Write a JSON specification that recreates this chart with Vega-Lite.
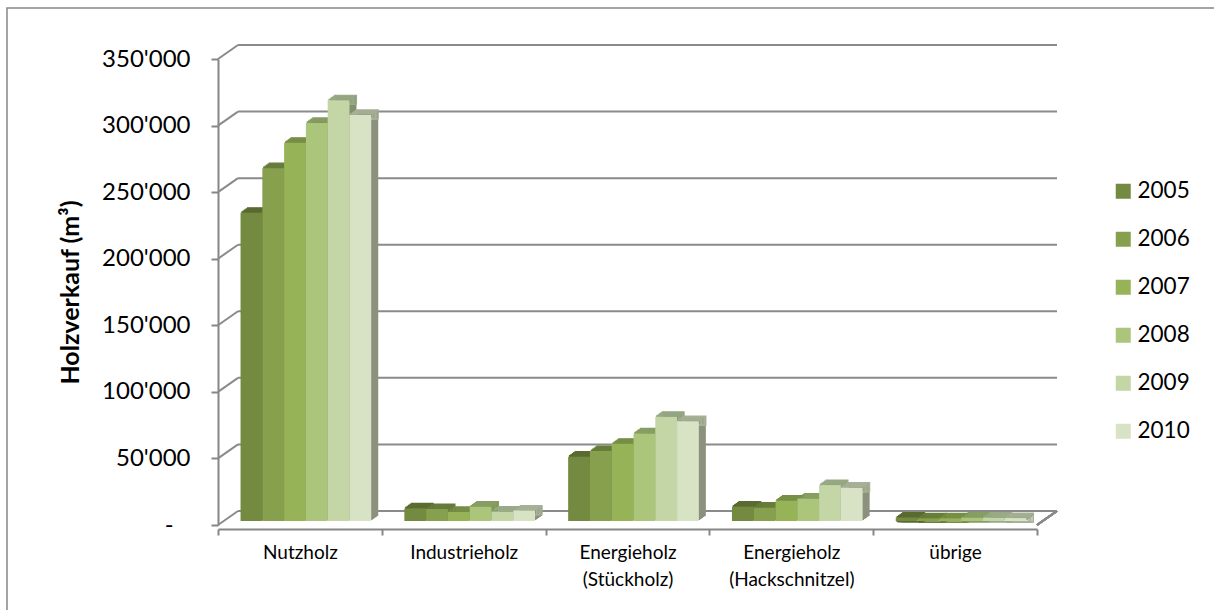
{"$schema":"https://vega.github.io/schema/vega-lite/v6.json","width":1210,"height":606,"autosize":{"type":"none"},"padding":{"left":7,"top":8,"right":0,"bottom":0},"background":"white","config":{"view":{"stroke":"#868686","strokeWidth":1.5},"font":"Lato"},"datasets":{"bars":[
{"Sorte":"Nutzholz","Jahr":"2005","Holzverkauf":231500},{"Sorte":"Nutzholz","Jahr":"2006","Holzverkauf":265000},{"Sorte":"Nutzholz","Jahr":"2007","Holzverkauf":284000},{"Sorte":"Nutzholz","Jahr":"2008","Holzverkauf":299000},{"Sorte":"Nutzholz","Jahr":"2009","Holzverkauf":316000},{"Sorte":"Nutzholz","Jahr":"2010","Holzverkauf":305000},
{"Sorte":"Industrieholz","Jahr":"2005","Holzverkauf":9500},{"Sorte":"Industrieholz","Jahr":"2006","Holzverkauf":9000},{"Sorte":"Industrieholz","Jahr":"2007","Holzverkauf":6800},{"Sorte":"Industrieholz","Jahr":"2008","Holzverkauf":10800},{"Sorte":"Industrieholz","Jahr":"2009","Holzverkauf":7000},{"Sorte":"Industrieholz","Jahr":"2010","Holzverkauf":7800},
{"Sorte":"Energieholz (Stückholz)","Jahr":"2005","Holzverkauf":48300},{"Sorte":"Energieholz (Stückholz)","Jahr":"2006","Holzverkauf":52500},{"Sorte":"Energieholz (Stückholz)","Jahr":"2007","Holzverkauf":58000},{"Sorte":"Energieholz (Stückholz)","Jahr":"2008","Holzverkauf":65800},{"Sorte":"Energieholz (Stückholz)","Jahr":"2009","Holzverkauf":78300},{"Sorte":"Energieholz (Stückholz)","Jahr":"2010","Holzverkauf":75000},
{"Sorte":"Energieholz (Hackschnitzel)","Jahr":"2005","Holzverkauf":10800},{"Sorte":"Energieholz (Hackschnitzel)","Jahr":"2006","Holzverkauf":10000},{"Sorte":"Energieholz (Hackschnitzel)","Jahr":"2007","Holzverkauf":15300},{"Sorte":"Energieholz (Hackschnitzel)","Jahr":"2008","Holzverkauf":16800},{"Sorte":"Energieholz (Hackschnitzel)","Jahr":"2009","Holzverkauf":27000},{"Sorte":"Energieholz (Hackschnitzel)","Jahr":"2010","Holzverkauf":25000},
{"Sorte":"übrige","Jahr":"2005","Holzverkauf":2600},{"Sorte":"übrige","Jahr":"2006","Holzverkauf":2000},{"Sorte":"übrige","Jahr":"2007","Holzverkauf":2000},{"Sorte":"übrige","Jahr":"2008","Holzverkauf":2500},{"Sorte":"übrige","Jahr":"2009","Holzverkauf":2500},{"Sorte":"übrige","Jahr":"2010","Holzverkauf":2200}],
"grid":[{"wert":0,"hinten":10511},{"wert":50000,"hinten":60511},{"wert":100000,"hinten":110511},{"wert":150000,"hinten":160511},{"wert":200000,"hinten":210511},{"wert":250000,"hinten":260511},{"wert":300000,"hinten":310511},{"wert":350000,"hinten":360511}]},
"resolve":{"scale":{"x":"independent"}},
"layer":[
{"data":{"name":"grid"},"layer":[
{"mark":{"type":"rule","color":"#8a8a8a","strokeWidth":2,"xOffset":20,"x2Offset":20,"yOffset":-14},"encoding":{"x":{"datum":0,"type":"quantitative","axis":null,"scale":{"domain":[0,5],"range":[211,1030],"nice":false,"zero":false}},"x2":{"datum":5},"y":{"field":"wert","type":"quantitative","scale":{"domain":[0,350000],"range":[517,51],"nice":false},"axis":{"values":[0,50000,100000,150000,200000,250000,300000,350000],"grid":false,"offset":-211,"title":"Holzverkauf (m³)","titleFontSize":25,"titleFontWeight":"bold","titleColor":"#000","titlePadding":18,"labelFontSize":24,"labelColor":"#000","labelPadding":21,"tickSize":7,"tickColor":"#868686","tickWidth":2,"domainColor":"#868686","domainWidth":2,"labelExpr":"datum.value==0 ? '-\u2007\u2009\u200b' : replace(format(datum.value,','),',',\"'\")"}}}},
{"mark":{"type":"rule","color":"#8a8a8a","strokeWidth":2},"encoding":{"x":{"datum":0,"type":"quantitative","axis":null},"x2":{"datum":0.122},"y":{"field":"wert","type":"quantitative"},"y2":{"field":"hinten"}}},
{"mark":{"type":"rule","color":"#8a8a8a","strokeWidth":2},"encoding":{"x":{"datum":5,"type":"quantitative","axis":null},"x2":{"datum":5.122},"y":{"datum":0,"type":"quantitative"},"y2":{"datum":10511}}}
]},
{"data":{"name":"bars"},"resolve":{"scale":{"xOffset":"independent"}},"encoding":{"x":{"field":"Sorte","type":"nominal","sort":["Nutzholz","Industrieholz","Energieholz (Stückholz)","Energieholz (Hackschnitzel)","übrige"],"scale":{"range":[211,1030],"paddingInner":0,"paddingOuter":0},"axis":{"title":null,"offset":-85,"labelAngle":0,"labelFontSize":19,"labelColor":"#000","labelPadding":8,"labelLineHeight":27,"tickBand":"extent","tickSize":6,"tickColor":"#868686","tickWidth":2,"domainColor":"#868686","domainWidth":2,"labelExpr":"split(datum.label,' ')"}},"y":{"field":"Holzverkauf","type":"quantitative"}},
"layer":[
{"mark":{"type":"bar","yOffset":-5},"encoding":{"xOffset":{"field":"Jahr","type":"nominal","scale":{"range":[7.4,171.2],"paddingOuter":0.76,"paddingInner":0}},"fill":{"field":"Jahr","type":"nominal","legend":null,"scale":{"range":["#5b6b35","#66783f","#70834a","#7b8b5e","#848f72","#8b917c"]}}}},
{"mark":{"type":"bar","yOffset":-6},"encoding":{"xOffset":{"field":"Jahr","type":"nominal","scale":{"range":[8.8,172.6],"paddingOuter":0.76,"paddingInner":0}},"fill":{"field":"Jahr","type":"nominal","legend":null}}},
{"mark":{"type":"bar","yOffset":-7},"encoding":{"xOffset":{"field":"Jahr","type":"nominal","scale":{"range":[10.2,174],"paddingOuter":0.76,"paddingInner":0}},"fill":{"field":"Jahr","type":"nominal","legend":null}}},
{"mark":{"type":"bar","yOffset":-8},"encoding":{"xOffset":{"field":"Jahr","type":"nominal","scale":{"range":[11.6,175.4],"paddingOuter":0.76,"paddingInner":0}},"fill":{"field":"Jahr","type":"nominal","legend":null}}},
{"mark":{"type":"bar","yOffset":-9},"encoding":{"xOffset":{"field":"Jahr","type":"nominal","scale":{"range":[13,176.8],"paddingOuter":0.76,"paddingInner":0}},"fill":{"field":"Jahr","type":"nominal","legend":null}}},
{"mark":{"type":"bar","yOffset":-5,"fillOpacity":0,"strokeWidth":1.2},"encoding":{"xOffset":{"field":"Jahr","type":"nominal","scale":{"range":[7.4,171.2],"paddingOuter":0.76,"paddingInner":0}},"y2":{"field":"Holzverkauf"},"stroke":{"field":"Jahr","type":"nominal","legend":null,"scale":{"range":["#5a6b2f","#677d3a","#778f45","#879e63","#98aa86","#a6b196"]}}}},
{"mark":{"type":"bar","yOffset":-6,"fillOpacity":0,"strokeWidth":1.2},"encoding":{"xOffset":{"field":"Jahr","type":"nominal","scale":{"range":[8.8,172.6],"paddingOuter":0.76,"paddingInner":0}},"y2":{"field":"Holzverkauf"},"stroke":{"field":"Jahr","type":"nominal","legend":null}}},
{"mark":{"type":"bar","yOffset":-7,"fillOpacity":0,"strokeWidth":1.2},"encoding":{"xOffset":{"field":"Jahr","type":"nominal","scale":{"range":[10.2,174],"paddingOuter":0.76,"paddingInner":0}},"y2":{"field":"Holzverkauf"},"stroke":{"field":"Jahr","type":"nominal","legend":null}}},
{"mark":{"type":"bar","yOffset":-8,"fillOpacity":0,"strokeWidth":1.2},"encoding":{"xOffset":{"field":"Jahr","type":"nominal","scale":{"range":[11.6,175.4],"paddingOuter":0.76,"paddingInner":0}},"y2":{"field":"Holzverkauf"},"stroke":{"field":"Jahr","type":"nominal","legend":null}}},
{"mark":{"type":"bar","yOffset":-9,"fillOpacity":0,"strokeWidth":1.2},"encoding":{"xOffset":{"field":"Jahr","type":"nominal","scale":{"range":[13,176.8],"paddingOuter":0.76,"paddingInner":0}},"y2":{"field":"Holzverkauf"},"stroke":{"field":"Jahr","type":"nominal","legend":null}}},
{"mark":{"type":"bar","yOffset":-4},"encoding":{"xOffset":{"field":"Jahr","type":"nominal","scale":{"range":[6,169.8],"paddingOuter":0.76,"paddingInner":0}},"color":{"field":"Jahr","type":"nominal","scale":{"range":["#738a40","#86a04e","#97b358","#abc57a","#c4d5a6","#d8e2c4"]},"legend":{"orient":"none","legendX":1105,"legendY":172,"title":null,"symbolType":"square","symbolSize":225,"labelFontSize":22.5,"labelColor":"#000","labelOffset":3,"rowPadding":25,"symbolStrokeWidth":0}}}}
]}
]}
